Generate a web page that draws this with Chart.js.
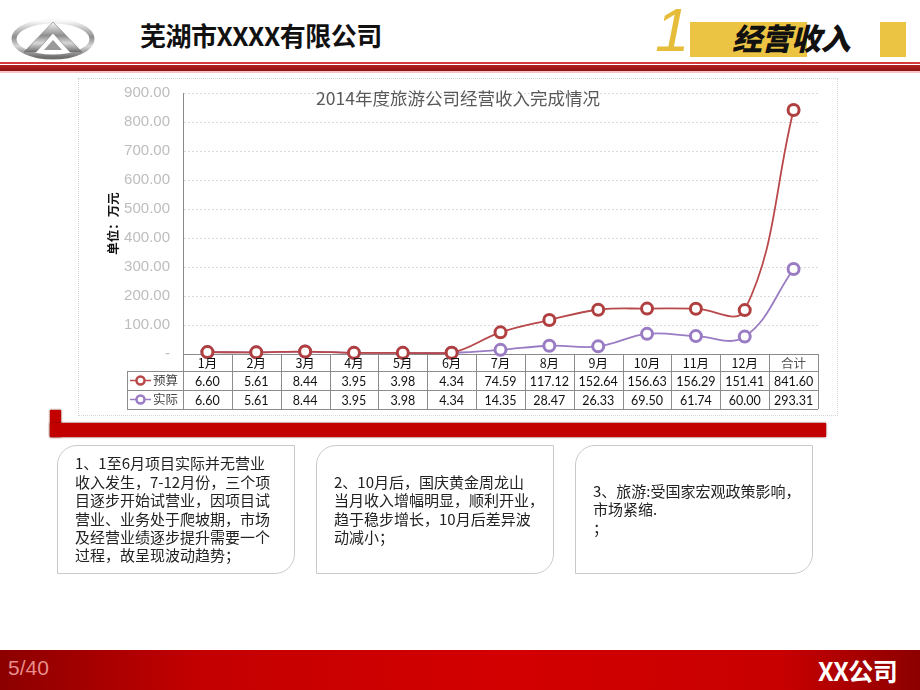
<!DOCTYPE html>
<html><head><meta charset="utf-8">
<script src="https://cdn.jsdelivr.net/npm/chart.js@4.4.1/dist/chart.umd.min.js"></script>
<style>
html,body{margin:0;padding:0;background:#fff;}
#page{position:relative;width:920px;height:690px;overflow:hidden;background:#fff;font-family:"Noto Sans CJK SC",sans-serif;}
.abs{position:absolute;}
#title{left:140px;top:16px;font-size:26px;font-weight:700;color:#111;letter-spacing:-0.5px;white-space:nowrap;}
#one{left:655px;top:-6px;font-family:"Liberation Sans",sans-serif;font-style:italic;font-size:62px;color:#e6bd3a;}
.ybox{background:#ecc443;}
#sect{left:732px;top:15px;font-size:30px;font-weight:900;font-style:italic;color:#111;white-space:nowrap;letter-spacing:-0.5px;}
#ctitle{left:0;width:916px;top:85px;text-align:center;font-size:17.5px;color:#595959;white-space:nowrap;}
.tb{border:1px solid #c9c9c9;border-radius:20px 0 20px 0;width:238px;height:129px;top:445px;display:flex;align-items:center;box-sizing:border-box;padding-left:17px;font-size:15px;line-height:18.4px;color:#222;white-space:nowrap;}
#footer{left:0;top:650px;width:920px;height:40px;background:linear-gradient(to right,#8c0000 0%,#c40000 22%,#d30000 55%,#c80000 85%,#8c0000 100%);}
#pg{left:8px;top:656px;font-family:"Liberation Sans Narrow","Liberation Sans",sans-serif;font-size:21px;color:#e88c8c;}
#co{left:818px;top:652px;font-size:25px;font-weight:700;color:#fff;white-space:nowrap;letter-spacing:-0.5px;}
</style></head>
<body>
<div id="page">
  <svg class="abs" style="left:10px;top:17px" width="86" height="44" viewBox="0 0 86 44">
    <defs>
      <linearGradient id="sil" x1="0" y1="0" x2="0" y2="1">
        <stop offset="0" stop-color="#fafafa"/><stop offset="0.45" stop-color="#8d8d8d"/><stop offset="0.7" stop-color="#d8d8d8"/><stop offset="1" stop-color="#6e6e6e"/>
      </linearGradient>
    </defs>
    <ellipse cx="43" cy="22" rx="39" ry="18" fill="none" stroke="url(#sil)" stroke-width="5"/>
    <path d="M43 5 L14 35 L26 35 L43 16 L60 35 L72 35 Z" fill="url(#sil)" stroke="#777" stroke-width="0.6"/>
    <path d="M43 23 L34 33 L52 33 Z" fill="#9a9a9a"/>
  </svg>
  <div class="abs" id="title">芜湖市XXXX有限公司</div>
  <div class="abs ybox" style="left:690px;top:22px;width:117px;height:35px;"></div>
  <div class="abs ybox" style="left:880px;top:22px;width:26px;height:35px;"></div>
  <div class="abs" id="one">1</div>
  <div class="abs" id="sect">经营收入</div>
  <div class="abs" style="left:0;top:62px;width:920px;height:2px;background:#d63a3a;"></div>
  <div class="abs" style="left:0;top:65px;width:920px;height:6px;background:linear-gradient(#b52020,#8e1212);"></div>
  <div class="abs" style="left:0;top:71px;width:920px;height:2px;background:#f2c4c4;"></div>

  <div class="abs" style="left:78px;top:78px;width:758px;height:336px;border:1px dotted #d6d6d6;"></div>

  <div class="abs" style="left:50px;top:410px;width:11px;height:27px;background:#c20000;box-shadow:0 0 2px #7a0000;"></div>
  <div class="abs" style="left:50px;top:423px;width:776px;height:14px;background:#c20000;box-shadow:0 0 2px #7a0000;"></div>

  <canvas id="c" class="abs" style="left:0;top:0;" width="920" height="690"></canvas>
  <div class="abs" id="ctitle">2014年度旅游公司经营收入完成情况</div>

  <div class="abs tb" style="left:57px;"><div>1、1至6月项目实际并无营业<br>收入发生，7-12月份，三个项<br>目逐步开始试营业，因项目试<br>营业、业务处于爬坡期，市场<br>及经营业绩逐步提升需要一个<br>过程，故呈现波动趋势；</div></div>
  <div class="abs tb" style="left:316px;"><div>2、10月后，国庆黄金周龙山<br>当月收入增幅明显，顺利开业，<br>趋于稳步增长，10月后差异波<br>动减小；</div></div>
  <div class="abs tb" style="left:575px;"><div>3、旅游:受国家宏观政策影响，<br>市场紧缩.<br>；</div></div>

  <div class="abs" id="footer"></div>
  <div class="abs" id="pg">5/40</div>
  <div class="abs" id="co">XX公司</div>
</div>
<script>
const categories = ['1月','2月','3月','4月','5月','6月','7月','8月','9月','10月','11月','12月','合计'];
const seriesNames = ['预算','实际'];
const budget = [6.60,5.61,8.44,3.95,3.98,4.34,74.59,117.12,152.64,156.63,156.29,151.41,841.60];
const actual = [6.60,5.61,8.44,3.95,3.98,4.34,14.35,28.47,26.33,69.50,61.74,60.00,293.31];
const yTickLabels = ['-','100.00','200.00','300.00','400.00','500.00','600.00','700.00','800.00','900.00'];
const yAxisTitle = '单位：万元';

const budgetColor = '#b9484a';
const actualColor = '#9a7cc4';

const tablePlugin = {
  id: 'dataTable',
  afterDraw(chart) {
    const ctx = chart.ctx;
    const xs = chart.scales.x;
    const top = chart.chartArea.bottom;
    const half = (xs.getPixelForValue(1) - xs.getPixelForValue(0)) / 2;
    const left0 = xs.getPixelForValue(0) - half;
    const right = xs.getPixelForValue(categories.length - 1) + half;
    const legLeft = 127;
    const r1 = top + 17, r2 = r1 + 19, r3 = r2 + 19;
    ctx.save();
    ctx.strokeStyle = '#8c8c8c';
    ctx.lineWidth = 1;
    ctx.beginPath();
    [r1, r2, r3].forEach(y => { ctx.moveTo(legLeft, Math.round(y) + 0.5); ctx.lineTo(right, Math.round(y) + 0.5); });
    ctx.moveTo(legLeft + 0.5, r1); ctx.lineTo(legLeft + 0.5, r3);
    for (let i = 0; i <= categories.length; i++) {
      const x = Math.round(left0 + i * 2 * half) + 0.5;
      ctx.moveTo(x, top); ctx.lineTo(x, r3);
    }
    ctx.stroke();
    ctx.textAlign = 'center';
    ctx.textBaseline = 'middle';
    ctx.font = '12.5px "Noto Sans CJK SC"';
    categories.forEach((c, i) => {
      ctx.fillStyle = i === categories.length - 1 ? '#555' : '#111';
      ctx.fillText(c, xs.getPixelForValue(i), (top + r1) / 2 + 1);
    });
    ctx.font = '12.5px "Lato"';
    ctx.fillStyle = '#111';
    [budget, actual].forEach((arr, k) => {
      const yc = k === 0 ? (r1 + r2) / 2 : (r2 + r3) / 2;
      arr.forEach((v, i) => ctx.fillText(v.toFixed(2), xs.getPixelForValue(i), yc + 1));
    });
    [[budgetColor, seriesNames[0], (r1 + r2) / 2], [actualColor, seriesNames[1], (r2 + r3) / 2]].forEach(([col, name, yc]) => {
      ctx.strokeStyle = col; ctx.lineWidth = 1.5;
      ctx.beginPath(); ctx.moveTo(130, yc); ctx.lineTo(151, yc); ctx.stroke();
      ctx.fillStyle = '#fff'; ctx.lineWidth = 2.5;
      ctx.beginPath(); ctx.arc(140.5, yc, 4, 0, Math.PI * 2); ctx.fill(); ctx.stroke();
      ctx.fillStyle = '#444'; ctx.textAlign = 'left';
      ctx.font = '12.5px "Noto Sans CJK SC"';
      ctx.fillText(name, 153, yc);
    });
    ctx.restore();
  }
};

new Chart(document.getElementById('c'), {
  type: 'line',
  data: {
    labels: categories,
    datasets: [
      { label: seriesNames[0], data: budget, borderColor: budgetColor, borderWidth: 1.8,
        pointBackgroundColor: '#fff', pointBorderColor: '#b0403f', pointBorderWidth: 3, pointRadius: 5.5,
        tension: 0.4, clip: false },
      { label: seriesNames[1], data: actual, borderColor: actualColor, borderWidth: 1.8,
        pointBackgroundColor: '#fff', pointBorderColor: '#9a7cc4', pointBorderWidth: 3, pointRadius: 5.5,
        tension: 0.4, clip: false }
    ]
  },
  options: {
    responsive: false, animation: false, devicePixelRatio: 1,
    layout: { padding: { left: 106, right: 102, top: 93, bottom: 336 } },
    plugins: { legend: { display: false }, tooltip: { enabled: false }, title: { display: false } },
    scales: {
      x: {
        type: 'category', offset: true,
        ticks: { display: false },
        grid: { display: false, drawTicks: false },
        border: { display: true, color: '#8a8a8a', width: 1 }
      },
      y: {
        min: 0, max: 900,
        afterFit: s => { s.width = 77; },
        ticks: { stepSize: 100, padding: 13, color: '#bdbdbd',
          font: { family: '"Liberation Sans", Arial, sans-serif', size: 15 },
          callback: (v, i) => yTickLabels[i] },
        grid: { color: '#d9d9d9', drawTicks: false, lineWidth: 1 },
        border: { display: true, color: '#8a8a8a', width: 1, dash: [2, 2] },
        title: { display: true, text: yAxisTitle, color: '#111', padding: 0,
          font: { family: '"Noto Sans CJK SC"', size: 12.5, weight: 'bold' } }
      }
    }
  },
  plugins: [tablePlugin]
});
</script>
</body></html>
